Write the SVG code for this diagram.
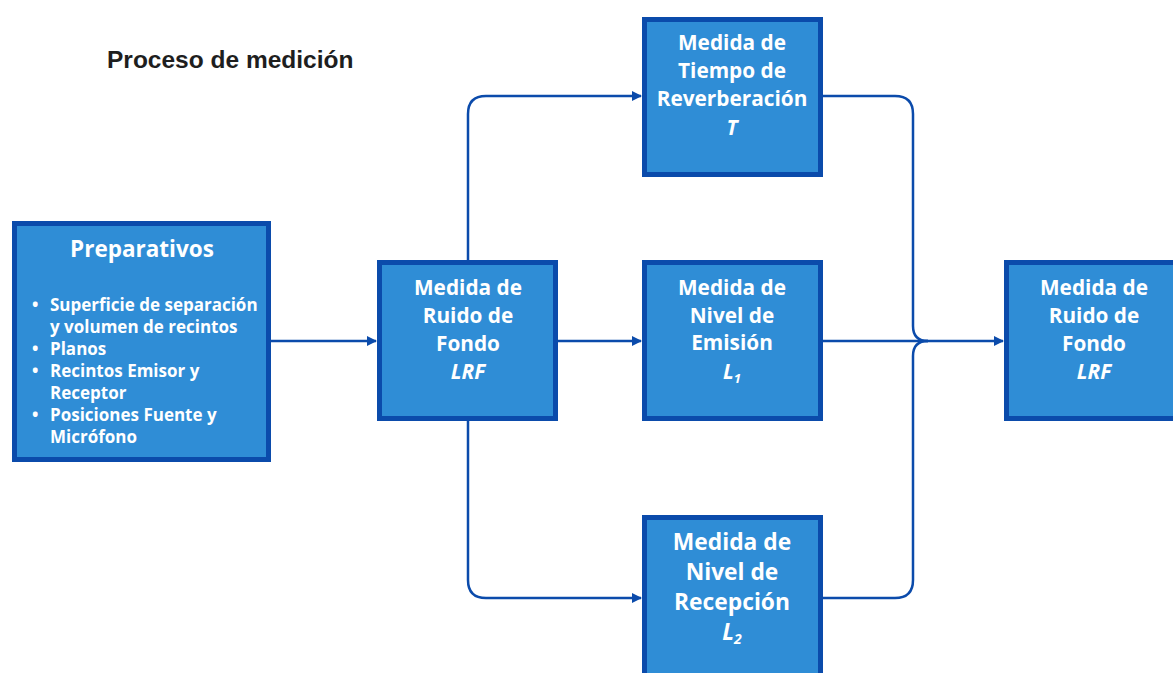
<svg xmlns="http://www.w3.org/2000/svg" width="1173" height="673" viewBox="0 0 1173 673">
<defs>
<style>
.box{fill:#2f8dd6;stroke:#0b4bab;stroke-width:5}
.t{font-family:"Open Sans","Liberation Sans",sans-serif;font-weight:bold;fill:#ffffff;text-anchor:middle}
.n{font-size:20.8px}
.b{font-size:22.8px}
.it{font-style:italic}
.bl{font-family:"Open Sans","Liberation Sans",sans-serif;font-weight:bold;fill:#ffffff;font-size:17px}
.c{fill:none;stroke:#0b4bab;stroke-width:2.5}
</style>
<marker id="ah" viewBox="0 0 10 10" refX="9" refY="5" markerWidth="4" markerHeight="4" orient="auto" markerUnits="strokeWidth">
<path d="M0,0 L10,5 L0,10 z" fill="#0b4bab"/>
</marker>
</defs>
<rect width="1173" height="673" fill="#ffffff"/>
<text x="107" y="68" font-family="'Liberation Sans',Arial,sans-serif" font-weight="bold" font-size="24.5px" fill="#1e1e1e">Proceso de medición</text>
<g id="connectors">
<path class="c" d="M271,341 H376" marker-end="url(#ah)"/>
<path class="c" d="M558,341 H641" marker-end="url(#ah)"/>
<path class="c" d="M468,260 V114 Q468,96 486,96 H641" marker-end="url(#ah)"/>
<path class="c" d="M468,421 V580 Q468,598 486,598 H641" marker-end="url(#ah)"/>
<path class="c" d="M823,341 H1003" marker-end="url(#ah)"/>
<path class="c" d="M823,96 H895 Q913,96 913,114 V326 Q913,341 928,341"/>
<path class="c" d="M823,598 H895 Q913,598 913,580 V356 Q913,341 928,341"/>
</g>
<g id="preparativos">
<rect class="box" x="14.5" y="223.5" width="254" height="236"/>
<text class="t" x="142" y="257" font-size="22.5px">Preparativos</text>
<g class="bl">
<text x="32" y="311">•</text><text x="50" y="311">Superficie de separación</text>
<text x="50" y="333">y volumen de recintos</text>
<text x="32" y="355">•</text><text x="50" y="355">Planos</text>
<text x="32" y="377">•</text><text x="50" y="377">Recintos Emisor y</text>
<text x="50" y="399">Receptor</text>
<text x="32" y="421">•</text><text x="50" y="421">Posiciones Fuente y</text>
<text x="50" y="443">Micrófono</text>
</g>
</g>
<g id="ruido1">
<rect class="box" x="379.5" y="262.5" width="176" height="156"/>
<text class="t n" x="468" y="295">Medida de</text>
<text class="t n" x="468" y="323">Ruido de</text>
<text class="t n" x="468" y="351">Fondo</text>
<text class="t n it" x="468" y="379">LRF</text>
</g>
<g id="tiempo">
<rect class="box" x="644.5" y="19.5" width="176" height="155"/>
<text class="t n" x="732" y="50">Medida de</text>
<text class="t n" x="732" y="78">Tiempo de</text>
<text class="t n" x="732" y="106">Reverberación</text>
<text class="t n it" x="732" y="135">T</text>
</g>
<g id="emision">
<rect class="box" x="644.5" y="262.5" width="176" height="156"/>
<text class="t n" x="732" y="295">Medida de</text>
<text class="t n" x="732" y="323">Nivel de</text>
<text class="t n" x="732" y="350">Emisión</text>
<text class="t n it" x="732" y="379">L<tspan font-size="13px" dy="4">1</tspan></text>
</g>
<g id="recepcion">
<rect class="box" x="644.5" y="517.5" width="176" height="165"/>
<text class="t b" x="732" y="550">Medida de</text>
<text class="t b" x="732" y="580">Nivel de</text>
<text class="t b" x="732" y="610">Recepción</text>
<text class="t b it" x="732" y="640">L<tspan font-size="14px" dy="4">2</tspan></text>
</g>
<g id="ruido2">
<rect class="box" x="1006.5" y="262.5" width="176" height="156"/>
<text class="t n" x="1094" y="295">Medida de</text>
<text class="t n" x="1094" y="323">Ruido de</text>
<text class="t n" x="1094" y="351">Fondo</text>
<text class="t n it" x="1094" y="379">LRF</text>
</g>
</svg>
